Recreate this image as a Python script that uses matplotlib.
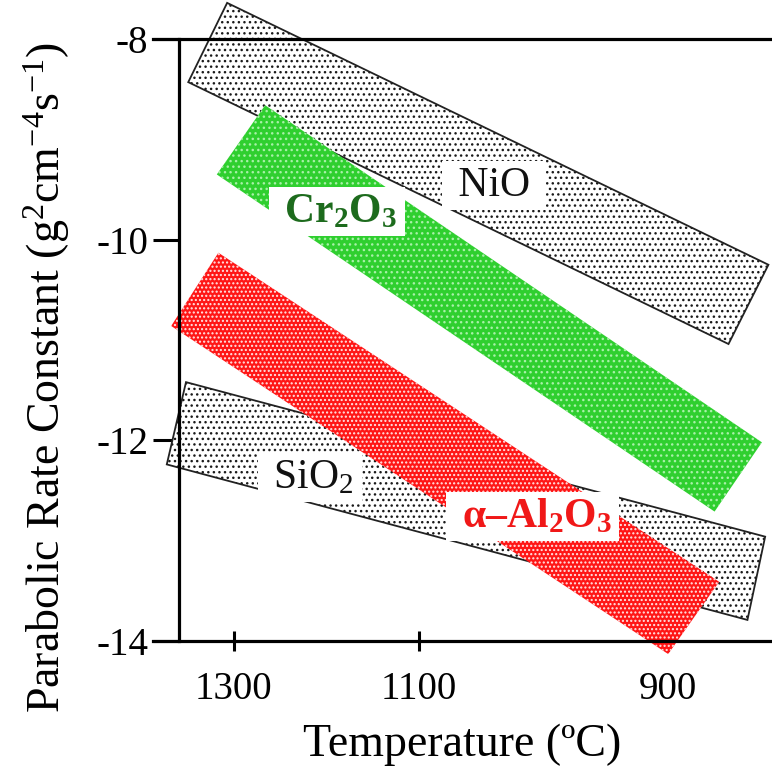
import numpy as np
import matplotlib
matplotlib.use("Agg")
import matplotlib.pyplot as plt
from matplotlib.patches import Polygon

plt.rcParams['font.family'] = ['Liberation Serif', 'DejaVu Serif']
plt.rcParams['mathtext.fontset'] = 'custom'
plt.rcParams['mathtext.rm'] = 'Liberation Serif'
plt.rcParams['mathtext.bf'] = 'Liberation Serif:bold'
plt.rcParams['mathtext.it'] = 'Liberation Serif:italic'
plt.rcParams['axes.unicode_minus'] = False
plt.rcParams['hatch.linewidth'] = 1.0

# ---- data (corners of each band: temperature in C, log10 kp) ----
nio_temp = [1308, 835, 860, 1358]
nio_logk = [-7.64, -10.25, -11.04, -8.43]
cr2o3_temp = [1262, 839, 869, 1321]
cr2o3_logk = [-8.66, -12.02, -12.71, -9.35]
al2o3_temp = [1319, 866, 900, 1381]
al2o3_logk = [-10.13, -13.41, -14.13, -10.86]
sio2_temp = [1361, 837, 848, 1387]
sio2_logk = [-11.42, -12.96, -13.79, -12.24]

tick_temps = [1300, 1100, 900]
tick_labels = ['1300', '1100', '900']
y_ticks = [-8, -10, -12, -14]
y_labels = ['-8', '-10', '-12', '-14']

labels = ['NiO', 'Cr2O3', 'SiO2', 'a-Al2O3']
label_temp = [1033, 1182, 1211, 1001]
label_logk = [-9.565, -9.824, -12.475, -12.864]


def inv_t(tc):
    return 1e4 / (np.asarray(tc, dtype=float) + 273.15)


W, H = 772, 775
fig = plt.figure(figsize=(W / 100, H / 100), dpi=100)
ax_l, ax_r, ax_t, ax_b = 153, 772, 39, 641
ax = fig.add_axes([ax_l / W, 1 - ax_b / H, (ax_r - ax_l) / W, (ax_b - ax_t) / H])
ax.set_xlim(5.9548, 9.0419)
ax.set_ylim(-14, -8)


def band(temps, logk, face, hatch, hatch_color, edge=None, lw=0.0, z=2):
    pts = np.column_stack([inv_t(temps), logk])
    base = Polygon(pts, closed=True, facecolor=face,
                   edgecolor='none', linewidth=0,
                   zorder=z, clip_on=False)
    ax.add_patch(base)
    hp = Polygon(pts, closed=True, facecolor='none', edgecolor=hatch_color,
                 linewidth=0, hatch=hatch, zorder=z + 0.1, clip_on=False)
    ax.add_patch(hp)
    if edge:
        outline = Polygon(pts, closed=True, facecolor='none', edgecolor=edge,
                          linewidth=lw, zorder=z + 0.2, clip_on=False)
        ax.add_patch(outline)


band(nio_temp, nio_logk, 'white', '...', '#1a1a1a', edge='#222222', lw=1.3, z=2)
band(sio2_temp, sio2_logk, 'white', '...', '#1a1a1a', edge='#222222', lw=1.3, z=2)
band(cr2o3_temp, cr2o3_logk, '#2fcf2f', '...', '#a8f0a8', z=3)
band(al2o3_temp, al2o3_logk, '#ff1616', '....', '#ffe6e6', z=3)

# labels
bb = dict(facecolor='white', edgecolor='none', pad=4)
ax.text(inv_t(label_temp[0]), label_logk[0], ' NiO ', fontsize=30,
        ha='center', va='baseline', color='#111111', bbox=bb, zorder=5)
ax.text(inv_t(label_temp[1]), label_logk[1], r' $\mathbf{Cr_2O_3}$ ', fontsize=30,
        ha='center', va='baseline', color='#1d6b1d', bbox=bb, zorder=5)
ax.text(inv_t(label_temp[2]), label_logk[2], r' SiO$_2$ ', fontsize=30,
        ha='center', va='baseline', color='#111111', bbox=bb, zorder=5)
ax.text(inv_t(label_temp[3]), label_logk[3], ' ' + r'$\mathbf{α}$' + '\u2013' + r'$\mathbf{Al_2O_3}$ ',
        fontsize=30, ha='center', va='baseline', color='#f01818', bbox=bb, zorder=5,
        fontweight='bold')

# axes styling
lw_sp = 2.3
for s in ['top', 'bottom', 'left']:
    ax.spines[s].set_linewidth(lw_sp)
    ax.spines[s].set_zorder(6)
ax.spines['right'].set_visible(False)
ax.spines['left'].set_position(('data', 6.0845))
ax.spines['left'].set_bounds(-14, -8)

ax.set_xticks(inv_t(tick_temps))
ax.set_xticklabels(tick_labels)
ax.set_yticks(y_ticks)
ax.set_yticklabels(y_labels)
ax.tick_params(axis='x', direction='inout', length=15, width=2.2, labelsize=28, pad=14)
ax.tick_params(axis='y', direction='out', length=19, width=2.2, labelsize=28, pad=3)
ax.set_facecolor('none')

fig.text(462 / W, 1 - 745 / H, 'Temperature (\u00baC)', fontsize=33,
         ha='center', va='center')
fig.text(47 / W, 1 - 378 / H,
         r'Parabolic Rate Constant (g$^{2}$cm$^{\mathrm{-4}}$s$^{\mathrm{-1}}$)',
         fontsize=33, rotation=90, ha='center', va='center')

fig.savefig('out.png', dpi=100, facecolor='white')
